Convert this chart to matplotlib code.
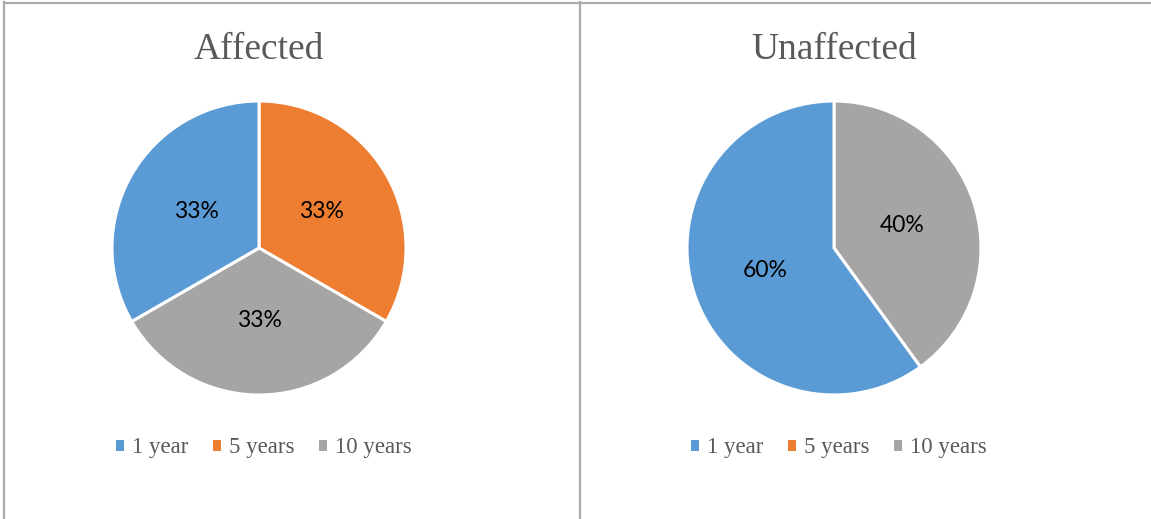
import matplotlib
matplotlib.use("Agg")
import matplotlib.pyplot as plt
from matplotlib.lines import Line2D

# Data
categories = ["1 year", "5 years", "10 years"]
titles = ["Affected", "Unaffected"]
affected = [1, 1, 1]
unaffected = [3, 0, 2]
colors = ["#5B9BD5", "#ED7D31", "#A5A5A5"]

W, H = 1151, 519
fig = plt.figure(figsize=(W / 100, H / 100), dpi=100)
fig.patch.set_facecolor("white")

# borders
bc = "#AFABAB"
fig.add_artist(Line2D([4 / W, 1.0], [1 - 2.5 / H, 1 - 2.5 / H], color=bc, lw=1.6))
fig.add_artist(Line2D([4 / W, 4 / W], [0, 1 - 2 / H], color=bc, lw=1.6))
fig.add_artist(Line2D([580 / W, 580 / W], [0, 1 - 2 / H], color=bc, lw=1.6))

# draw order (clockwise from 12 o'clock): 5 years, 10 years, 1 year
order = [1, 2, 0]

def fmt(p):
    return f"{p:.0f}%" if p > 0 else ""

panels = [(titles[0], affected, 259), (titles[1], unaffected, 834)]
for title, vals, cx in panels:
    r = 147
    cy = 248
    ax = fig.add_axes([(cx - r) / W, (H - cy - r) / H, 2 * r / W, 2 * r / H])
    v = [vals[i] for i in order]
    c = [colors[i] for i in order]
    wedges, texts, autotexts = ax.pie(
        v, colors=c, startangle=90, counterclock=False,
        autopct=fmt, pctdistance=0.49,
        wedgeprops=dict(edgecolor="white", linewidth=2.2),
        textprops=dict(fontsize=16.5, family="Lato", color="black"))
    for w in wedges:
        w.set_clip_on(False)
    ax.set_xlim(-1, 1)
    ax.set_ylim(-1, 1)
    ax.axis("off")

    fig.text(cx / W, 1 - 50 / H, title, ha="center", va="center",
             fontsize=27, family="Liberation Serif", color="#595959")

    handles = [wedges[order.index(i)] for i in range(3)]
    leg = ax.legend(handles, categories, loc="center",
                    bbox_to_anchor=((cx + 5) / W, 1 - 448 / H),
                    bbox_transform=fig.transFigure, ncol=3, frameon=False,
                    prop=dict(family="Liberation Serif", size=16.5),
                    handlelength=0.36, handleheight=0.36, handletextpad=0.35,
                    columnspacing=1.05, borderpad=0)
    for t in leg.get_texts():
        t.set_color("#595959")
    for h in leg.legend_handles:
        h.set_edgecolor("none")

fig.savefig("out.png", dpi=100, facecolor="white")
